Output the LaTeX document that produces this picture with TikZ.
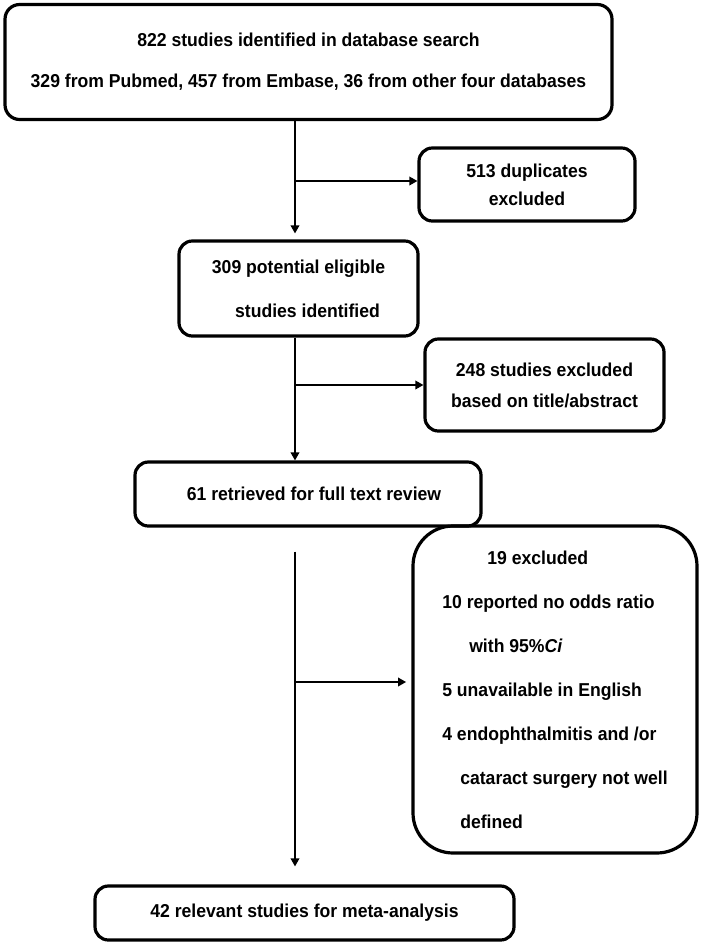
\documentclass[tikz,border=0pt]{standalone}
\usepackage{fontspec}
\setmainfont{Liberation Sans}[FakeStretch=0.943]
\usepackage{tikz}
\usetikzlibrary{arrows.meta, calc}

\begin{document}
\begin{tikzpicture}[
    x=0.75pt, y=-0.75pt,
    box/.style={rectangle, draw, line width=2.4pt, rounded corners=10pt, align=center, inner sep=0pt},
    linegap/.style={font=\fontsize{14}{#1}\selectfont\bfseries},
    arrow/.style={-{Triangle[length=6pt,width=6.5pt]}, line width=1pt}
]
\useasboundingbox (0,0) rectangle (706,947);

% Main flow
\node[box, linegap=30.75pt, rounded corners=11pt, minimum width=455.25pt, minimum height=86.25pt] (search) at (308.5,62)
  {822 studies identified in database search\\329 from Pubmed, 457 from Embase, 36 from other four databases};
\node[box, linegap=33pt, minimum width=179.25pt, minimum height=71.25pt] (elig) at (298.5,288.5)
  {309 potential eligible\\\hspace*{13.5pt}studies identified};
\node[box, linegap=16pt, minimum width=259.5pt, minimum height=48pt] (full) at (308,494)
  {\hspace*{9pt}61 retrieved for full text review};
\node[box, linegap=16pt, minimum width=314.25pt, minimum height=40.5pt] (final) at (304.5,913)
  {42 relevant studies for meta-analysis};

% Exclusions (right side)
\node[box, linegap=21pt, minimum width=162pt, minimum height=54.75pt] (dup) at (527,184.5)
  {513 duplicates\\excluded};
\node[box, linegap=23.25pt, minimum width=179.25pt, minimum height=69pt] (screen) at (544.5,385)
  {248 studies excluded\\based on title/abstract};
\node[box, linegap=33pt, align=left, rounded corners=30pt, minimum width=213pt, minimum height=245.25pt] (excl) at (555,689.5)
  {\hspace*{33.75pt}19 excluded\\
   10 reported no odds ratio\\
   \hspace*{20.25pt}with 95\%\textit{Ci}\\
   5 unavailable in English\\
   4 endophthalmitis and /or\\
   \hspace*{13.5pt}cataract surgery not well\\
   \hspace*{13.5pt}defined};

% Branch points
\coordinate (b1) at (295,181);
\coordinate (b2) at (295,385);
\coordinate (b3) at (295,682);

% Arrows
\draw[arrow, shorten >=4.5pt] (search.south -| b1) -- (elig.north -| b1);
\draw[arrow] (b1) -- (b1 -| dup.west);
\draw[arrow] (elig.south -| b2) -- (full.north -| b2);
\draw[arrow] (b2) -- (b2 -| screen.west);
\draw[arrow, shorten <=18pt, shorten >=13.5pt] (full.south -| b3) -- (final.north -| b3);
\draw[arrow, shorten >=4pt] (b3) -- (b3 -| excl.west);

\end{tikzpicture}
\end{document}
